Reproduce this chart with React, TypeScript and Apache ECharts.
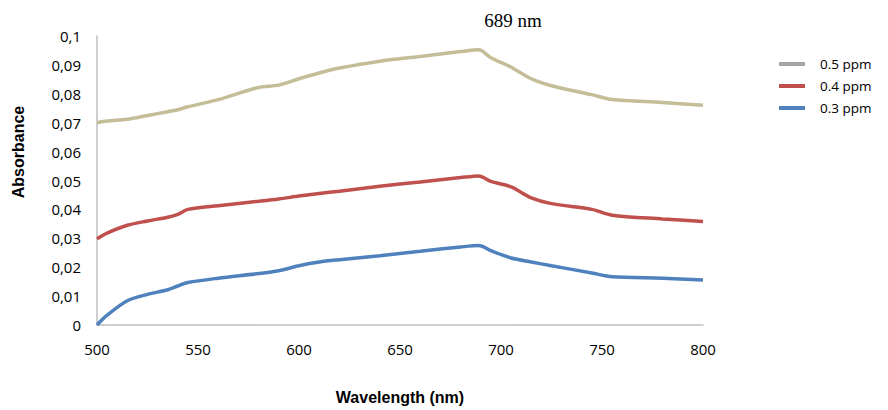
import React, { useEffect, useRef } from "react";
import * as echarts from "echarts";

const wavelengths = [500, 505, 515, 525, 535, 540, 545, 560, 580, 590, 600, 610, 620, 640, 660, 680, 689, 695, 705, 715, 725, 745, 755, 780, 800];
const ppm05 = [0.07, 0.0706, 0.0712, 0.0725, 0.0738, 0.0745, 0.0755, 0.078, 0.0822, 0.083, 0.0852, 0.0872, 0.0889, 0.0913, 0.0929, 0.0946, 0.0952, 0.0925, 0.0892, 0.0852, 0.0828, 0.0797, 0.078, 0.077, 0.076];
const ppm04 = [0.0298, 0.0318, 0.0345, 0.036, 0.0373, 0.0383, 0.04, 0.0413, 0.0428, 0.0436, 0.0446, 0.0455, 0.0463, 0.048, 0.0495, 0.051, 0.0516, 0.0497, 0.0478, 0.044, 0.042, 0.04, 0.038, 0.0367, 0.0358];
const ppm03 = [0, 0.0034, 0.0084, 0.0106, 0.0122, 0.0135, 0.0147, 0.0162, 0.0178, 0.0188, 0.0205, 0.0218, 0.0226, 0.024, 0.0255, 0.027, 0.0275, 0.0257, 0.0232, 0.0218, 0.0205, 0.018, 0.0167, 0.0162, 0.0156];
const seriesNames = ["0.5 ppm", "0.4 ppm", "0.3 ppm"];
const lineColors = ["#C4BD97", "#C0504D", "#4F81BD"];
const legendColors = ["#A5A5A5", "#C0504D", "#4F81BD"];
const peakLabel = "689 nm";
const xTitle = "Wavelength (nm)";
const yTitle = "Absorbance";

export default function App() {
  const ref = useRef<HTMLDivElement>(null);
  useEffect(() => {
    if (!ref.current) return;
    const chart = echarts.init(ref.current, null, { renderer: "svg" });
    const allData = [ppm05, ppm04, ppm03];
    chart.setOption({
      animation: false,
      textStyle: { fontFamily: "Open Sans" },
      title: {
        text: peakLabel,
        left: 508,
        top: 6,
        textAlign: "center",
        textStyle: { fontFamily: "Liberation Serif", fontSize: 19, fontWeight: "normal", color: "#000" },
      },
      legend: {
        orient: "vertical",
        left: 774,
        top: 52,
        itemWidth: 26,
        itemHeight: 4,
        itemGap: 8,
        icon: "rect",
        textStyle: { fontSize: 13.5, color: "#000", fontFamily: "Open Sans", padding: [0, 0, 0, 10] },
        data: seriesNames.map((n, i) => ({ name: n, itemStyle: { color: legendColors[i] } })),
      },
      graphic: [
        {
          type: "text",
          x: 18,
          y: 152,
          rotation: Math.PI / 2,
          style: {
            text: yTitle,
            fontFamily: "Liberation Sans",
            fontWeight: "bold",
            fontSize: 16,
            fill: "#000",
            align: "center",
            verticalAlign: "middle",
          },
        },
      ],
      grid: { left: 97, right: 185, top: 36, bottom: 77 },
      xAxis: {
        type: "value",
        min: 500,
        max: 800,
        interval: 50,
        name: xTitle,
        nameLocation: "middle",
        nameGap: 64,
        nameTextStyle: { fontWeight: "bold", fontSize: 16, color: "#000", fontFamily: "Liberation Sans" },
        axisLine: { lineStyle: { color: "#BFBFBF", width: 1.5 } },
        axisTick: { show: false },
        splitLine: { show: false },
        axisLabel: { margin: 16, fontSize: 15, color: "#000" },
      },
      yAxis: {
        type: "value",
        min: 0,
        max: 0.1,
        interval: 0.01,
        axisLine: { show: true, lineStyle: { color: "#BFBFBF", width: 1.5 } },
        axisTick: { show: false },
        splitLine: { show: false },
        axisLabel: {
          margin: 16,
          fontSize: 15,
          color: "#000",
          formatter: (v: number) => (v === 0 ? "0" : String(Math.round(v * 100) / 100).replace(".", ",")),
        },
      },
      series: seriesNames.map((n, i) => ({
        name: n,
        type: "line",
        smooth: 0.3,
        showSymbol: false,
        symbol: "none",
        itemStyle: { color: legendColors[i] },
        lineStyle: { color: lineColors[i], width: 3.5 },
        data: wavelengths.map((w, j) => [w, allData[i][j]]),
      })),
    });
    return () => chart.dispose();
  }, []);
  return <div ref={ref} style={{ position: "absolute", left: 0, top: 0, width: 888, height: 410 }} />;
}
